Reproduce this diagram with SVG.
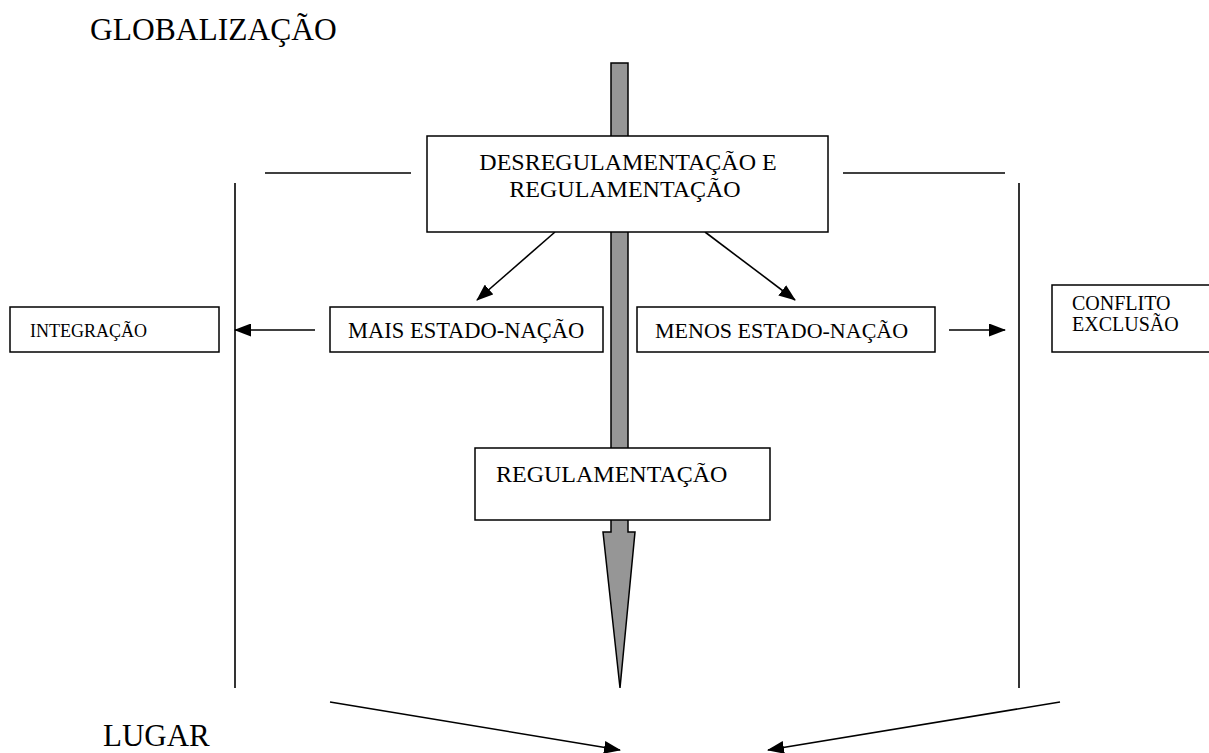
<svg xmlns="http://www.w3.org/2000/svg" width="1209" height="753" viewBox="0 0 1209 753">
<defs>
<style>
text{font-family:"Liberation Serif","Times New Roman",serif;fill:#000}
.box{fill:#fff;stroke:#000;stroke-width:1.5}
.ln{stroke:#000;stroke-width:1.6;fill:none}
.conn{stroke:#000;stroke-width:1.6;fill:none;marker-end:url(#ah)}
</style>
<marker id="ah" markerUnits="userSpaceOnUse" markerWidth="17" markerHeight="13" viewBox="0 0 17 13" refX="16" refY="6.5" orient="auto">
<path d="M0,0 L17,6.5 L0,13 z" fill="#000"/>
</marker>
</defs>
<rect width="1209" height="753" fill="#fff"/>
<text x="90" y="40" font-size="31.5">GLOBALIZAÇÃO</text>
<text x="103" y="746" font-size="31">LUGAR</text>
<g id="big-arrow">
<polygon points="611,63 628,63 628,532 635,532 620,688 603,532 611,532" fill="#969696" stroke="#000" stroke-width="1.5"/>
</g>
<g id="frame-lines">
<line class="ln" x1="265" y1="173" x2="411" y2="173" stroke-width="2"/>
<line class="ln" x1="843" y1="173" x2="1005" y2="173" stroke-width="2"/>
<line class="ln" x1="235" y1="183" x2="235" y2="688"/>
<line class="ln" x1="1019" y1="183" x2="1019" y2="688"/>
</g>
<g id="connectors">
<line class="conn" x1="555" y1="232" x2="477" y2="300"/>
<line class="conn" x1="705" y1="232" x2="795" y2="300"/>
<line class="conn" x1="315" y1="330" x2="235" y2="330"/>
<line class="conn" x1="949" y1="330" x2="1005" y2="330"/>
<line class="conn" x1="330" y1="702" x2="620" y2="750"/>
<line class="conn" x1="1060" y1="702" x2="768" y2="750"/>
</g>
<g id="desregulamentacao">
<rect class="box" x="427" y="136" width="401" height="96"/>
<text x="628" y="170" font-size="24" text-anchor="middle">DESREGULAMENTAÇÃO E</text>
<text x="625" y="197" font-size="24" text-anchor="middle">REGULAMENTAÇÃO</text>
</g>
<g id="integracao">
<rect class="box" x="10" y="307" width="209" height="45"/>
<text x="30" y="337" font-size="18">INTEGRAÇÃO</text>
</g>
<g id="mais">
<rect class="box" x="330" y="307" width="273" height="45"/>
<text x="348" y="338" font-size="22.5">MAIS ESTADO-NAÇÃO</text>
</g>
<g id="menos">
<rect class="box" x="637" y="307" width="298" height="45"/>
<text x="655" y="338" font-size="22">MENOS ESTADO-NAÇÃO</text>
</g>
<g id="conflito">
<rect class="box" x="1052" y="285" width="160" height="67"/>
<text x="1072" y="310" font-size="20">CONFLITO</text>
<text x="1072" y="331" font-size="20">EXCLUSÃO</text>
</g>
<g id="regulamentacao">
<rect class="box" x="475" y="448" width="295" height="72"/>
<text x="496" y="482" font-size="24">REGULAMENTAÇÃO</text>
</g>
</svg>
